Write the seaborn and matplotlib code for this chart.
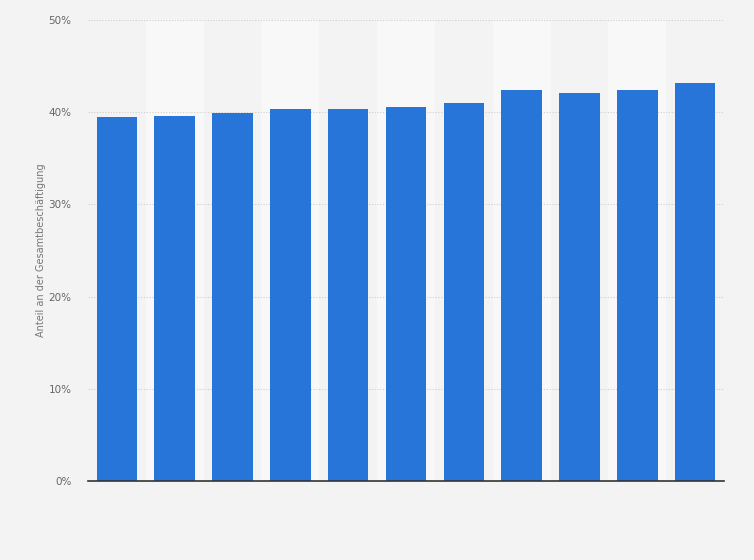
import seaborn as sns
import matplotlib.pyplot as plt
import pandas as pd
from matplotlib.ticker import FuncFormatter

# categories (x labels are not shown in the reference)
categories = [str(i) for i in range(1, 12)]
share = [39.5, 39.6, 39.9, 40.3, 40.3, 40.6, 41.0, 42.4, 42.1, 42.4, 43.2]
y_label = "Anteil an der Gesamtbeschäftigung"

df = pd.DataFrame({"cat": categories, "share": share})

fig = plt.figure(figsize=(7.54, 5.6), dpi=100)
fig.patch.set_facecolor("#f3f3f3")
ax = fig.add_axes([88 / 754, 1 - 481 / 560, (724 - 88) / 754, (481 - 20) / 560])
ax.set_facecolor("#f3f3f3")

# alternating column bands
for i in range(len(categories)):
    if i % 2 == 1:
        ax.axvspan(i - 0.5, i + 0.5, color="#f8f8f8", zorder=0, lw=0)

sns.barplot(data=df, x="cat", y="share", color="#2775d9", width=0.7,
            saturation=1, ax=ax, zorder=3)

ax.set_xlim(-0.5, len(categories) - 0.5)
ax.set_ylim(0, 50)
ax.set_yticks([0, 10, 20, 30, 40, 50])
ax.yaxis.set_major_formatter(FuncFormatter(lambda v, p: f"{v:.0f}%"))
ax.grid(axis="y", color="#cfcfcf", linestyle=(0, (1, 1.5)), linewidth=0.8, zorder=1)
ax.set_axisbelow(False)
for line in ax.get_ygridlines():
    line.set_zorder(1)

for s in ["top", "right", "left"]:
    ax.spines[s].set_visible(False)
ax.spines["bottom"].set_color("#333333")
ax.spines["bottom"].set_linewidth(1.2)
ax.spines["bottom"].set_zorder(4)

ax.set_xticks([])
ax.set_xlabel("")
ax.tick_params(axis="y", length=0, labelsize=7.5, labelcolor="#666666", pad=12)
ax.set_ylabel(y_label, fontsize=7, color="#777777", labelpad=2)

fig.savefig("out.png", dpi=100, facecolor=fig.get_facecolor())
